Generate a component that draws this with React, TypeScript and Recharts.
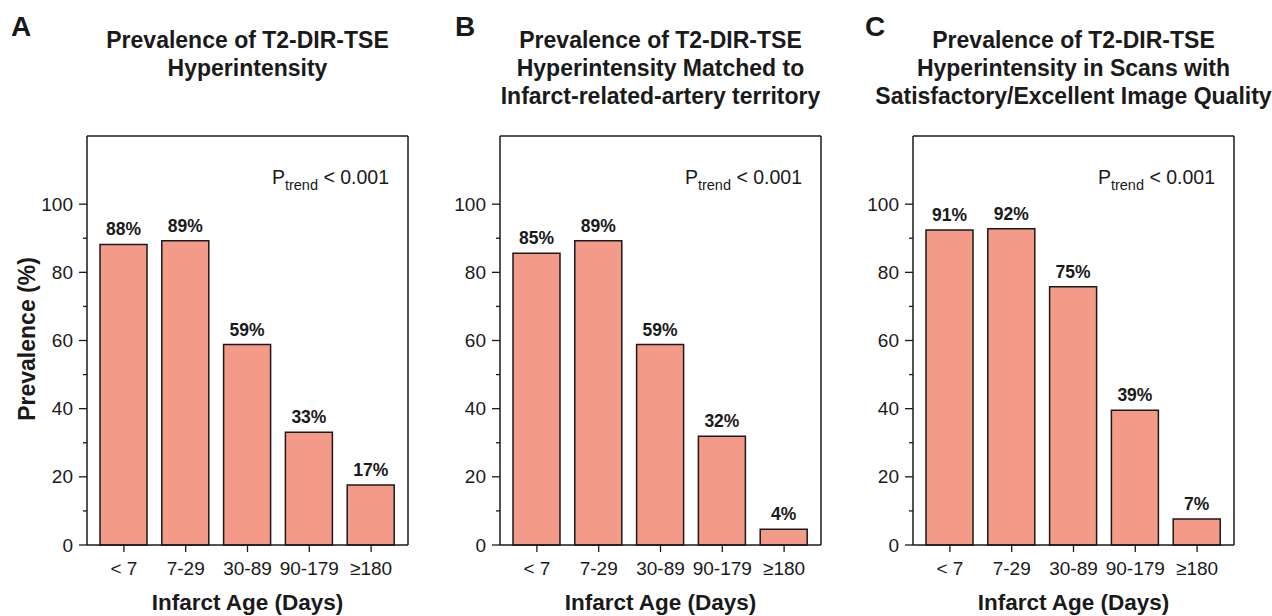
import { BarChart, Bar, XAxis, YAxis, LabelList } from 'recharts';

const categories = ['< 7', '7-29', '30-89', '90-179', '≥180'];

const valuesA = [88.2, 89.3, 58.8, 33.1, 17.6];
const labelsA = ['88%', '89%', '59%', '33%', '17%'];

const valuesB = [85.6, 89.3, 58.8, 31.9, 4.6];
const labelsB = ['85%', '89%', '59%', '32%', '4%'];

const valuesC = [92.4, 92.8, 75.8, 39.5, 7.6];
const labelsC = ['91%', '92%', '75%', '39%', '7%'];

const yTicks = [0, 10, 20, 30, 40, 50, 60, 70, 80, 90, 100];

const titleA = ['Prevalence of T2-DIR-TSE', 'Hyperintensity'];
const titleB = ['Prevalence of T2-DIR-TSE', 'Hyperintensity Matched to', 'Infarct-related-artery territory'];
const titleC = ['Prevalence of T2-DIR-TSE', 'Hyperintensity in Scans with', 'Satisfactory/Excellent Image Quality'];

const INK = '#1a1a1a';
const BAR_FILL = '#f39a88';

const W = 413;
const H = 616;
const PLOT_CX = 247.5;

function YTick(props: any) {
  const { x, y, payload } = props;
  const major = payload.value % 20 === 0;
  return (
    <g>
      <line x1={x} x2={x - (major ? 8 : 4)} y1={y} y2={y} stroke={INK} strokeWidth={1.3} />
      {major && (
        <text x={x - 14} y={y} textAnchor="end" dominantBaseline="central" fontSize={19} fill={INK}>
          {payload.value}
        </text>
      )}
    </g>
  );
}

function XTick(props: any) {
  const { x, y, payload } = props;
  return (
    <text x={x} y={y} dy="0.71em" textAnchor="middle" fontSize={19} fill={INK}>
      {payload.value}
    </text>
  );
}

type PanelProps = {
  left: number;
  letter: string;
  letterX: number;
  title: string[];
  values: number[];
  labels: string[];
  showYLabel?: boolean;
};

function Panel({ left, letter, letterX, title, values, labels, showYLabel }: PanelProps) {
  const data = categories.map((cat, i) => ({ cat, value: values[i], label: labels[i] }));
  return (
    <div style={{ position: 'absolute', left, top: 0, width: W, height: H }}>
      <BarChart width={W} height={H} data={data} margin={{ top: 135, right: 4, bottom: 41, left: 27 }}>
        <XAxis
          dataKey="cat"
          height={30}
          padding={{ left: 6, right: 6 }}
          axisLine={{ stroke: INK, strokeWidth: 1.5 }}
          tickLine={{ stroke: INK, strokeWidth: 1.3 }}
          tickSize={7}
          tickMargin={10}
          tick={<XTick />}
          interval={0}
        />
        {/* top and right axes only close the frame */}
        <XAxis
          xAxisId="top"
          orientation="top"
          dataKey="cat"
          height={1}
          tick={false}
          tickLine={false}
          axisLine={{ stroke: INK, strokeWidth: 1.5 }}
        />
        <YAxis
          width={60}
          domain={[0, 120]}
          ticks={yTicks}
          interval={0}
          tickLine={false}
          tickSize={0}
          tickMargin={0}
          tick={<YTick />}
          axisLine={{ stroke: INK, strokeWidth: 1.5 }}
        />
        <YAxis
          yAxisId="right"
          orientation="right"
          width={1}
          domain={[0, 120]}
          tick={false}
          tickLine={false}
          axisLine={{ stroke: INK, strokeWidth: 1.5 }}
        />
        <Bar dataKey="value" fill={BAR_FILL} stroke={INK} strokeWidth={1.5} barSize={47} isAnimationActive={false}>
          <LabelList dataKey="label" position="top" offset={9} style={{ fontSize: 17.5, fontWeight: 'bold', fill: INK }} />
        </Bar>
      </BarChart>
      <svg
        width={W}
        height={H}
        style={{ position: 'absolute', left: 0, top: 0, overflow: 'visible', pointerEvents: 'none' }}
      >
        <text x={letterX} y={36} fontSize={28} fontWeight="bold" fill={INK}>
          {letter}
        </text>
        {title.map((line, i) => (
          <text key={i} x={PLOT_CX} y={48 + 28 * i} textAnchor="middle" fontSize={23} fontWeight="bold" fill={INK}>
            {line}
          </text>
        ))}
        <text x={389} y={184} textAnchor="end" fontSize={19.5} fill={INK}>
          P
          <tspan fontSize={14.5} dy={6}>trend</tspan>
          <tspan dy={-6}> &lt; 0.001</tspan>
        </text>
        <text x={PLOT_CX} y={610} textAnchor="middle" fontSize={22.5} fontWeight="bold" fill={INK}>
          Infarct Age (Days)
        </text>
        {showYLabel && (
          <text
            x={35}
            y={339}
            transform="rotate(-90 35 339)"
            textAnchor="middle"
            fontSize={23}
            fontWeight="bold"
            fill={INK}
          >
            Prevalence (%)
          </text>
        )}
      </svg>
    </div>
  );
}

export default function App() {
  return (
    <div
      style={{
        position: 'absolute',
        left: 0,
        top: 0,
        width: 1272,
        height: 616,
        background: '#fff',
        fontFamily: '"Liberation Sans", Arial, Helvetica, sans-serif',
      }}
    >
      <Panel left={0} letter="A" letterX={11} title={titleA} values={valuesA} labels={labelsA} showYLabel />
      <Panel left={413} letter="B" letterX={42} title={titleB} values={valuesB} labels={labelsB} />
      <Panel left={826} letter="C" letterX={39} title={titleC} values={valuesC} labels={labelsC} />
    </div>
  );
}
